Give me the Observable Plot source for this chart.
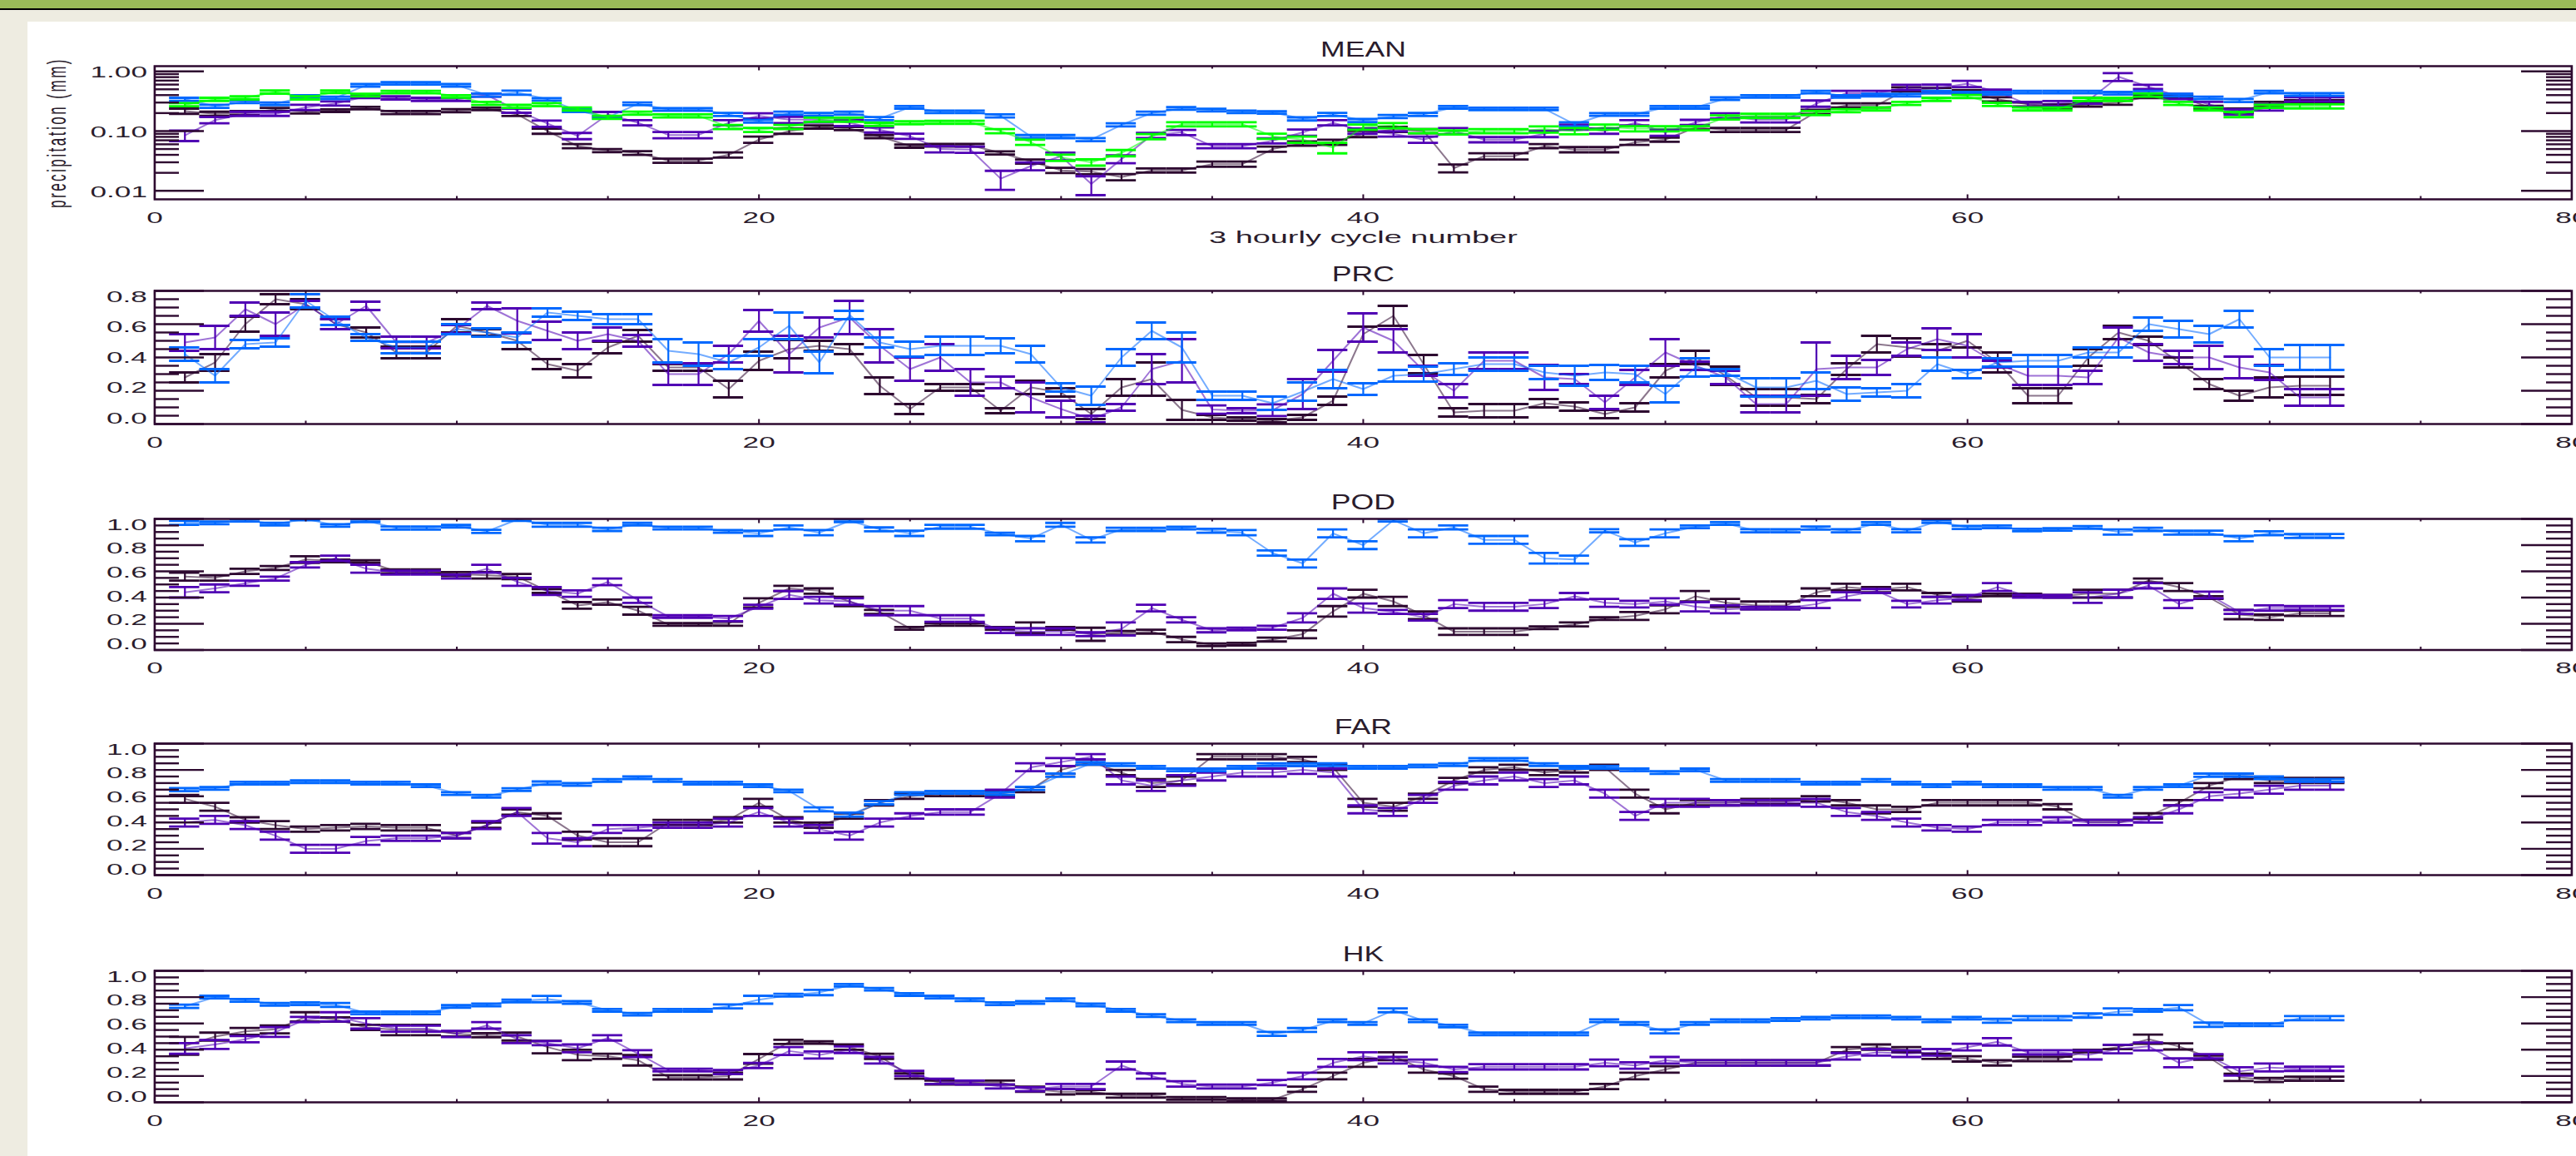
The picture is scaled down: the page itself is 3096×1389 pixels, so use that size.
<!DOCTYPE html>
<html><head><meta charset="utf-8">
<script src="https://cdn.jsdelivr.net/npm/d3@7"></script>
<script src="https://cdn.jsdelivr.net/npm/@observablehq/plot@0.6"></script>
<style>
html,body{margin:0;padding:0;overflow:hidden;background:#eeece1;}
#page{position:relative;width:3096px;height:1389px;overflow:hidden;background:#eeece1;}
#bar{position:absolute;left:0;top:0;width:3096px;height:10px;background:#9bbb59;}
#rule{position:absolute;left:0;top:10px;width:3096px;height:2px;background:#000;}
#sheet{position:absolute;left:33px;top:26px;right:0;bottom:0;background:#fff;}
.panel{position:absolute;left:0;}
.panel svg *{vector-effect:non-scaling-stroke;}
</style></head><body>
<div id="page"><div id="bar"></div><div id="rule"></div><div id="sheet"></div></div>
<script>
// ---------- data ----------
const cycle = [1,2,3,4,5,6,7,8,9,10,11,12,13,14,15,16,17,18,19,20,21,22,23,24,25,26,27,28,29,30,31,32,33,34,35,36,
  37,38,39,40,41,42,43,44,45,46,47,48,49,50,51,52,53,54,55,56,57,58,59,60,61,62,63,64,65,66,67,68,69,70,71,72];
const xTicksMinor = [5,10,15,25,30,35,45,50,55,65,70,75];
const xTicksMajor = [0,20,40,60,80];
const xTickLabels = [0,20,40,60,80];
const panelTitles = ["MEAN","PRC","POD","FAR","HK"];
const xAxisTitle = "3 hourly cycle number";
const yAxisTitle = "precipitation (mm)";
const logMinor = [0.02,0.03,0.04,0.05,0.06,0.07,0.08,0.09,0.2,0.3,0.4,0.5,0.6,0.7,0.8,0.9];
const logMajor = [0.01,0.1,1];
const logLabels = [1,0.1,0.01];
const linMinor = [0.05,0.1,0.15,0.25,0.3,0.35,0.45,0.5,0.55,0.65,0.7,0.75,0.85,0.9,0.95];
const linMajor = [0,0.2,0.4,0.6,0.8,1.0];
const prcMinor = [0.05,0.1,0.15,0.25,0.3,0.35,0.45,0.5,0.55,0.65,0.7,0.75];
const prcMajor = [0,0.2,0.4,0.6,0.8];

// MEAN (mm), relative error
const meanBlack = [0.216,0.195,0.20,0.23,0.21,0.22,0.243,0.205,0.205,0.22,0.235,0.19,
 0.10,0.056,0.047,0.043,0.032,0.032,0.04,0.072,0.10,0.117,0.11,0.081,
 0.056,0.058,0.058,0.043,0.031,0.022,0.021,0.017,0.022,0.022,0.028,0.028,
 0.05,0.062,0.065,0.09,0.107,0.10,0.024,0.038,0.038,0.056,0.049,0.049,
 0.065,0.072,0.115,0.105,0.105,0.105,0.21,0.27,0.27,0.50,0.48,0.45,
 0.34,0.28,0.26,0.28,0.30,0.38,0.38,0.25,0.22,0.28,0.31,0.31];
const meanPurple = [0.085,0.153,0.195,0.195,0.25,0.29,0.38,0.36,0.34,0.34,0.40,0.22,
 0.134,0.083,0.19,0.138,0.086,0.086,0.138,0.18,0.155,0.155,0.138,0.105,
 0.082,0.05,0.049,0.016,0.026,0.038,0.013,0.034,0.085,0.095,0.056,0.056,
 0.069,0.095,0.138,0.10,0.09,0.072,0.10,0.072,0.072,0.09,0.117,0.10,
 0.138,0.095,0.14,0.18,0.155,0.155,0.29,0.43,0.43,0.54,0.52,0.62,
 0.45,0.28,0.29,0.325,0.81,0.55,0.38,0.28,0.21,0.25,0.34,0.34];
const meanBlue = [0.34,0.26,0.31,0.286,0.38,0.36,0.585,0.63,0.63,0.585,0.40,0.44,
 0.34,0.22,0.17,0.286,0.23,0.23,0.19,0.146,0.20,0.19,0.20,0.162,
 0.25,0.21,0.21,0.18,0.081,0.081,0.072,0.127,0.20,0.24,0.225,0.21,
 0.205,0.16,0.19,0.15,0.175,0.19,0.25,0.235,0.235,0.235,0.13,0.19,
 0.19,0.25,0.25,0.35,0.38,0.38,0.45,0.38,0.40,0.40,0.45,0.43,
 0.43,0.45,0.45,0.45,0.43,0.45,0.40,0.36,0.325,0.45,0.41,0.41];
const meanGreen = [0.277,0.34,0.36,0.45,0.36,0.455,0.40,0.45,0.45,0.38,0.29,0.26,
 0.277,0.235,0.17,0.20,0.18,0.18,0.117,0.105,0.117,0.155,0.155,0.13,
 0.138,0.14,0.14,0.10,0.065,0.036,0.030,0.043,0.081,0.13,0.13,0.13,
 0.082,0.072,0.053,0.117,0.124,0.10,0.095,0.10,0.10,0.107,0.10,0.117,
 0.11,0.11,0.112,0.17,0.18,0.18,0.20,0.22,0.235,0.29,0.34,0.38,
 0.28,0.235,0.235,0.34,0.34,0.40,0.29,0.235,0.19,0.26,0.26,0.26];
const meanBlackRel = [0.10,0.08,0.08,0.06,0.06,0.05,0.05,0.06,0.06,0.06,0.05,0.06,
 0.10,0.08,0.06,0.07,0.08,0.08,0.10,0.12,0.10,0.06,0.06,0.06,
 0.06,0.05,0.05,0.06,0.08,0.10,0.10,0.12,0.08,0.08,0.10,0.10,
 0.10,0.08,0.10,0.12,0.10,0.08,0.15,0.12,0.12,0.08,0.10,0.10,
 0.10,0.08,0.08,0.08,0.08,0.08,0.08,0.08,0.08,0.08,0.10,0.08,
 0.08,0.08,0.08,0.08,0.08,0.06,0.06,0.06,0.08,0.10,0.06,0.06];
const meanPurpleRel = [0.20,0.12,0.08,0.08,0.10,0.08,0.06,0.06,0.06,0.06,0.06,0.08,
 0.12,0.12,0.10,0.10,0.12,0.12,0.10,0.10,0.12,0.10,0.12,0.10,
 0.10,0.12,0.12,0.35,0.15,0.15,0.35,0.15,0.10,0.10,0.08,0.08,
 0.10,0.12,0.10,0.10,0.10,0.12,0.12,0.10,0.10,0.12,0.10,0.10,
 0.10,0.12,0.10,0.10,0.10,0.10,0.12,0.10,0.10,0.10,0.15,0.12,
 0.10,0.10,0.10,0.12,0.15,0.08,0.10,0.10,0.10,0.12,0.08,0.08];
const meanBlueRel = [0.06,0.06,0.05,0.05,0.05,0.05,0.05,0.05,0.05,0.05,0.06,0.08,
 0.05,0.05,0.05,0.05,0.05,0.05,0.06,0.05,0.06,0.06,0.06,0.06,
 0.05,0.05,0.05,0.06,0.06,0.06,0.06,0.06,0.06,0.05,0.05,0.05,
 0.05,0.06,0.06,0.06,0.06,0.06,0.05,0.05,0.05,0.05,0.08,0.05,
 0.05,0.05,0.05,0.05,0.05,0.05,0.05,0.05,0.05,0.05,0.05,0.05,
 0.05,0.05,0.05,0.05,0.05,0.05,0.05,0.05,0.06,0.05,0.05,0.05];
const meanGreenRel = [0.06,0.06,0.06,0.06,0.06,0.05,0.05,0.05,0.05,0.05,0.06,0.06,
 0.06,0.06,0.06,0.06,0.06,0.06,0.08,0.08,0.08,0.08,0.08,0.06,
 0.06,0.06,0.06,0.08,0.10,0.12,0.12,0.12,0.10,0.08,0.08,0.08,
 0.10,0.12,0.20,0.10,0.10,0.08,0.08,0.08,0.08,0.12,0.12,0.10,
 0.10,0.10,0.08,0.08,0.08,0.08,0.08,0.06,0.06,0.06,0.06,0.06,
 0.06,0.06,0.06,0.06,0.06,0.06,0.06,0.06,0.10,0.06,0.08,0.08];

// PRC
const prcBlack = [0.28,0.37,0.60,0.75,0.72,0.60,0.55,0.43,0.43,0.59,0.55,0.50,
 0.36,0.32,0.46,0.53,0.34,0.34,0.21,0.38,0.45,0.47,0.45,0.23,
 0.09,0.22,0.22,0.08,0.22,0.19,0.06,0.22,0.27,0.085,0.04,0.03,
 0.02,0.04,0.14,0.54,0.65,0.36,0.07,0.08,0.08,0.125,0.105,0.06,
 0.10,0.32,0.40,0.29,0.16,0.16,0.15,0.33,0.48,0.46,0.44,0.50,
 0.37,0.17,0.17,0.40,0.55,0.50,0.37,0.24,0.17,0.22,0.23,0.23];
const prcPurple = [0.49,0.52,0.69,0.60,0.72,0.60,0.71,0.49,0.49,0.57,0.71,0.62,
 0.56,0.50,0.54,0.50,0.30,0.30,0.42,0.62,0.42,0.58,0.64,0.47,
 0.33,0.40,0.25,0.25,0.16,0.09,0.03,0.10,0.33,0.38,0.087,0.08,
 0.083,0.18,0.38,0.58,0.50,0.32,0.20,0.38,0.38,0.28,0.27,0.13,
 0.28,0.43,0.35,0.28,0.12,0.12,0.33,0.34,0.34,0.45,0.51,0.47,
 0.36,0.29,0.29,0.28,0.52,0.43,0.40,0.40,0.34,0.31,0.16,0.16];
const prcBlue = [0.42,0.29,0.48,0.49,0.74,0.62,0.52,0.46,0.46,0.57,0.55,0.52,
 0.67,0.65,0.63,0.63,0.44,0.42,0.37,0.46,0.59,0.37,0.655,0.49,
 0.45,0.47,0.47,0.47,0.42,0.22,0.17,0.40,0.56,0.46,0.17,0.17,
 0.125,0.195,0.27,0.21,0.29,0.30,0.33,0.36,0.36,0.31,0.29,0.31,
 0.30,0.18,0.34,0.31,0.22,0.22,0.26,0.18,0.19,0.20,0.36,0.30,
 0.37,0.38,0.38,0.43,0.43,0.60,0.57,0.54,0.63,0.40,0.40,0.40];
const prcBlackErr = [0.03,0.05,0.045,0.03,0.03,0.03,0.03,0.035,0.035,0.04,0.02,0.05,
 0.03,0.04,0.035,0.035,0.02,0.02,0.05,0.055,0.055,0.03,0.03,0.05,
 0.03,0.02,0.02,0.015,0.04,0.025,0.03,0.05,0.10,0.06,0.015,0.01,
 0.01,0.015,0.025,0.045,0.06,0.055,0.025,0.04,0.04,0.025,0.025,0.025,
 0.025,0.04,0.04,0.055,0.05,0.05,0.025,0.035,0.05,0.055,0.04,0.04,
 0.06,0.045,0.045,0.05,0.04,0.025,0.03,0.03,0.03,0.06,0.055,0.055];
const prcPurpleErr = [0.05,0.07,0.04,0.07,0.02,0.03,0.025,0.035,0.035,0.025,0.02,0.075,
 0.055,0.05,0.04,0.035,0.065,0.065,0.05,0.065,0.11,0.06,0.10,0.10,
 0.07,0.08,0.08,0.035,0.09,0.05,0.02,0.02,0.09,0.13,0.025,0.015,
 0.035,0.09,0.065,0.085,0.07,0.03,0.04,0.05,0.05,0.075,0.03,0.04,
 0.045,0.08,0.025,0.04,0.05,0.05,0.16,0.07,0.045,0.04,0.065,0.07,
 0.02,0.055,0.055,0.04,0.06,0.05,0.04,0.07,0.065,0.045,0.05,0.05];
const prcBlueErr = [0.04,0.04,0.025,0.025,0.04,0.025,0.02,0.035,0.035,0.03,0.025,0.03,
 0.025,0.025,0.03,0.03,0.07,0.07,0.04,0.05,0.08,0.065,0.025,0.03,
 0.045,0.055,0.055,0.045,0.05,0.025,0.055,0.05,0.05,0.09,0.025,0.025,
 0.04,0.055,0.055,0.035,0.035,0.045,0.035,0.04,0.04,0.04,0.06,0.045,
 0.05,0.05,0.055,0.02,0.055,0.055,0.05,0.04,0.025,0.04,0.04,0.025,
 0.025,0.035,0.035,0.03,0.03,0.04,0.05,0.05,0.05,0.05,0.075,0.075];

// POD
const podBlack = [0.56,0.55,0.60,0.625,0.69,0.68,0.675,0.60,0.60,0.58,0.57,0.56,
 0.45,0.34,0.365,0.30,0.195,0.195,0.20,0.36,0.47,0.45,0.37,0.29,
 0.165,0.195,0.195,0.165,0.17,0.165,0.12,0.13,0.14,0.08,0.04,0.045,
 0.08,0.12,0.295,0.43,0.37,0.265,0.14,0.14,0.14,0.17,0.195,0.24,
 0.26,0.31,0.41,0.36,0.34,0.34,0.44,0.48,0.46,0.48,0.42,0.39,
 0.42,0.42,0.41,0.43,0.43,0.53,0.48,0.40,0.27,0.25,0.28,0.28];
const podPurple = [0.44,0.47,0.51,0.545,0.65,0.70,0.62,0.59,0.59,0.56,0.62,0.52,
 0.45,0.43,0.52,0.38,0.255,0.255,0.24,0.33,0.42,0.38,0.37,0.30,
 0.30,0.24,0.24,0.15,0.14,0.14,0.12,0.16,0.32,0.23,0.15,0.16,
 0.17,0.245,0.43,0.32,0.29,0.25,0.35,0.33,0.33,0.35,0.41,0.36,
 0.35,0.37,0.33,0.31,0.32,0.32,0.35,0.41,0.45,0.35,0.38,0.40,
 0.48,0.41,0.41,0.40,0.43,0.49,0.35,0.42,0.29,0.32,0.32,0.32];
const podBlue = [0.97,0.97,0.99,0.96,1.0,0.95,0.985,0.93,0.93,0.945,0.905,0.995,
 0.955,0.955,0.92,0.96,0.93,0.93,0.905,0.89,0.935,0.895,0.985,0.92,
 0.89,0.94,0.94,0.885,0.85,0.955,0.84,0.92,0.92,0.93,0.91,0.895,
 0.74,0.66,0.89,0.80,0.99,0.89,0.935,0.84,0.84,0.70,0.69,0.91,
 0.82,0.89,0.94,0.965,0.91,0.91,0.93,0.91,0.965,0.91,0.98,0.935,
 0.94,0.915,0.92,0.935,0.90,0.92,0.895,0.895,0.85,0.89,0.87,0.87];
const podBlackErr = [0.03,0.02,0.02,0.015,0.025,0.01,0.01,0.015,0.015,0.015,0.025,0.02,
 0.015,0.025,0.02,0.03,0.01,0.01,0.015,0.035,0.02,0.02,0.035,0.015,
 0.01,0.01,0.01,0.01,0.04,0.01,0.05,0.015,0.015,0.02,0.01,0.01,
 0.015,0.03,0.04,0.03,0.035,0.03,0.025,0.025,0.025,0.01,0.015,0.01,
 0.03,0.03,0.04,0.03,0.03,0.03,0.03,0.025,0.02,0.025,0.015,0.02,
 0.01,0.01,0.01,0.03,0.03,0.015,0.03,0.01,0.035,0.02,0.02,0.02];
const podPurpleErr = [0.04,0.03,0.02,0.015,0.02,0.02,0.03,0.015,0.015,0.015,0.03,0.03,
 0.03,0.025,0.025,0.02,0.01,0.01,0.02,0.015,0.03,0.025,0.025,0.035,
 0.035,0.025,0.025,0.02,0.025,0.025,0.015,0.05,0.025,0.02,0.015,0.01,
 0.015,0.035,0.04,0.035,0.015,0.025,0.03,0.03,0.03,0.03,0.025,0.03,
 0.025,0.025,0.035,0.03,0.01,0.01,0.03,0.03,0.015,0.025,0.025,0.02,
 0.03,0.01,0.01,0.04,0.03,0.02,0.03,0.025,0.015,0.02,0.015,0.015];
const podBlueErr = [0.015,0.01,0.01,0.01,0.01,0.01,0.01,0.012,0.012,0.01,0.012,0.01,
 0.015,0.015,0.012,0.01,0.01,0.01,0.01,0.02,0.015,0.02,0.01,0.015,
 0.02,0.015,0.015,0.01,0.02,0.015,0.02,0.012,0.012,0.01,0.015,0.02,
 0.02,0.03,0.03,0.03,0.01,0.03,0.015,0.03,0.03,0.04,0.03,0.012,
 0.025,0.03,0.01,0.01,0.012,0.012,0.012,0.012,0.01,0.012,0.01,0.012,
 0.01,0.01,0.01,0.01,0.02,0.012,0.015,0.015,0.02,0.015,0.015,0.015];

// FAR
const farBlack = [0.58,0.52,0.42,0.38,0.35,0.36,0.37,0.36,0.36,0.30,0.38,0.48,
 0.45,0.30,0.25,0.25,0.40,0.40,0.42,0.55,0.42,0.38,0.45,0.55,
 0.60,0.62,0.62,0.62,0.65,0.80,0.86,0.78,0.70,0.72,0.90,0.90,
 0.90,0.88,0.82,0.55,0.52,0.60,0.72,0.80,0.82,0.78,0.80,0.82,
 0.62,0.50,0.55,0.55,0.56,0.56,0.58,0.55,0.50,0.50,0.55,0.55,
 0.55,0.55,0.52,0.40,0.40,0.45,0.55,0.68,0.75,0.72,0.72,0.72];
const farPurple = [0.40,0.42,0.38,0.30,0.20,0.20,0.26,0.28,0.28,0.30,0.38,0.48,
 0.28,0.25,0.35,0.36,0.38,0.38,0.40,0.48,0.40,0.35,0.30,0.40,
 0.45,0.48,0.48,0.62,0.82,0.86,0.90,0.72,0.68,0.72,0.75,0.78,
 0.78,0.80,0.78,0.50,0.48,0.58,0.68,0.72,0.75,0.70,0.72,0.62,
 0.45,0.55,0.55,0.55,0.55,0.55,0.55,0.48,0.45,0.40,0.36,0.35,
 0.40,0.40,0.42,0.40,0.40,0.42,0.50,0.60,0.62,0.65,0.68,0.68];
const farBlue = [0.65,0.66,0.70,0.70,0.71,0.71,0.70,0.70,0.68,0.62,0.60,0.65,
 0.70,0.69,0.72,0.74,0.72,0.70,0.70,0.68,0.64,0.50,0.46,0.55,
 0.62,0.63,0.63,0.62,0.66,0.76,0.85,0.84,0.82,0.80,0.80,0.82,
 0.84,0.84,0.84,0.82,0.82,0.83,0.84,0.88,0.88,0.84,0.82,0.82,
 0.80,0.78,0.80,0.72,0.72,0.72,0.70,0.70,0.72,0.70,0.68,0.70,
 0.68,0.68,0.66,0.66,0.60,0.66,0.68,0.76,0.76,0.74,0.72,0.72];
const farBlackErr = [0.03,0.03,0.02,0.03,0.02,0.02,0.02,0.02,0.02,0.02,0.02,0.02,
 0.02,0.03,0.03,0.03,0.02,0.02,0.02,0.03,0.02,0.02,0.02,0.02,
 0.02,0.02,0.02,0.02,0.02,0.03,0.02,0.02,0.03,0.03,0.02,0.02,
 0.02,0.02,0.02,0.03,0.03,0.02,0.02,0.02,0.02,0.02,0.02,0.02,
 0.03,0.03,0.02,0.02,0.02,0.02,0.02,0.02,0.03,0.02,0.02,0.02,
 0.02,0.02,0.02,0.02,0.02,0.02,0.02,0.02,0.02,0.02,0.02,0.02];
const farPurpleErr = [0.03,0.03,0.03,0.03,0.03,0.03,0.03,0.02,0.02,0.02,0.03,0.03,
 0.04,0.03,0.03,0.02,0.02,0.02,0.03,0.03,0.03,0.03,0.03,0.03,
 0.02,0.02,0.02,0.03,0.03,0.03,0.02,0.03,0.04,0.04,0.03,0.03,
 0.03,0.03,0.03,0.03,0.03,0.03,0.03,0.03,0.03,0.03,0.03,0.03,
 0.03,0.03,0.03,0.02,0.02,0.02,0.03,0.03,0.03,0.03,0.02,0.02,
 0.02,0.02,0.02,0.02,0.02,0.02,0.03,0.03,0.03,0.03,0.03,0.03];
const farBlueErr = [0.012,0.01,0.01,0.01,0.01,0.01,0.01,0.01,0.01,0.01,0.01,0.01,
 0.012,0.01,0.01,0.01,0.01,0.01,0.01,0.01,0.01,0.015,0.015,0.012,
 0.01,0.01,0.01,0.01,0.012,0.012,0.01,0.01,0.01,0.01,0.01,0.01,
 0.01,0.01,0.01,0.01,0.01,0.01,0.01,0.01,0.01,0.01,0.01,0.01,
 0.01,0.01,0.01,0.01,0.01,0.01,0.01,0.01,0.01,0.01,0.01,0.01,
 0.01,0.01,0.01,0.01,0.01,0.01,0.01,0.012,0.012,0.01,0.01,0.01];

// HK
const hkBlack = [0.43,0.50,0.54,0.555,0.65,0.63,0.57,0.55,0.55,0.52,0.51,0.50,
 0.42,0.36,0.35,0.32,0.19,0.19,0.20,0.33,0.46,0.455,0.42,0.35,
 0.20,0.15,0.15,0.15,0.10,0.08,0.08,0.05,0.05,0.03,0.03,0.02,
 0.02,0.10,0.20,0.30,0.35,0.25,0.20,0.10,0.08,0.08,0.08,0.12,
 0.20,0.25,0.30,0.30,0.30,0.30,0.30,0.40,0.42,0.40,0.35,0.33,
 0.30,0.33,0.33,0.39,0.42,0.48,0.425,0.34,0.19,0.17,0.18,0.18];
const hkPurple = [0.41,0.44,0.48,0.535,0.63,0.65,0.60,0.56,0.56,0.52,0.585,0.48,
 0.45,0.41,0.49,0.37,0.245,0.245,0.23,0.28,0.39,0.36,0.40,0.32,
 0.22,0.16,0.15,0.12,0.10,0.12,0.12,0.28,0.20,0.14,0.12,0.12,
 0.15,0.20,0.30,0.35,0.32,0.30,0.25,0.27,0.27,0.27,0.27,0.30,
 0.28,0.32,0.30,0.30,0.30,0.30,0.30,0.35,0.38,0.37,0.38,0.42,
 0.46,0.38,0.38,0.36,0.405,0.425,0.30,0.35,0.235,0.265,0.255,0.255];
const hkBlue = [0.73,0.80,0.775,0.745,0.75,0.74,0.68,0.68,0.68,0.73,0.74,0.77,
 0.785,0.76,0.70,0.67,0.70,0.70,0.73,0.78,0.815,0.835,0.89,0.86,
 0.82,0.80,0.78,0.75,0.76,0.78,0.74,0.70,0.66,0.62,0.60,0.60,
 0.52,0.55,0.62,0.60,0.70,0.62,0.58,0.52,0.52,0.52,0.52,0.62,
 0.60,0.54,0.60,0.62,0.62,0.63,0.64,0.65,0.65,0.64,0.62,0.64,
 0.62,0.64,0.64,0.66,0.69,0.70,0.72,0.59,0.59,0.59,0.64,0.64];
const hkBlackErr = [0.068,0.03,0.026,0.03,0.035,0.016,0.02,0.04,0.04,0.02,0.016,0.03,
 0.047,0.04,0.02,0.04,0.016,0.016,0.026,0.037,0.016,0.01,0.02,0.02,
 0.02,0.015,0.015,0.015,0.02,0.02,0.015,0.015,0.015,0.01,0.01,0.01,
 0.01,0.02,0.025,0.03,0.03,0.025,0.02,0.02,0.015,0.015,0.015,0.02,
 0.025,0.025,0.02,0.02,0.02,0.02,0.02,0.02,0.02,0.02,0.02,0.02,
 0.02,0.017,0.017,0.01,0.016,0.035,0.023,0.016,0.028,0.016,0.016,0.016];
const hkPurpleErr = [0.04,0.034,0.024,0.037,0.02,0.035,0.04,0.023,0.023,0.024,0.025,0.03,
 0.016,0.03,0.02,0.026,0.01,0.01,0.016,0.02,0.03,0.027,0.025,0.025,
 0.02,0.02,0.015,0.015,0.015,0.02,0.02,0.03,0.02,0.02,0.015,0.015,
 0.02,0.025,0.03,0.03,0.025,0.025,0.02,0.02,0.02,0.02,0.02,0.025,
 0.025,0.025,0.02,0.02,0.02,0.02,0.02,0.025,0.025,0.025,0.025,0.025,
 0.028,0.016,0.016,0.034,0.032,0.03,0.034,0.016,0.032,0.03,0.016,0.016];
const hkBlueErr = [0.013,0.01,0.01,0.01,0.01,0.015,0.01,0.01,0.01,0.01,0.01,0.01,
 0.024,0.01,0.01,0.01,0.01,0.01,0.015,0.03,0.01,0.02,0.01,0.01,
 0.01,0.01,0.01,0.01,0.01,0.01,0.01,0.01,0.01,0.01,0.01,0.01,
 0.015,0.015,0.01,0.01,0.015,0.01,0.01,0.01,0.01,0.01,0.01,0.01,
 0.01,0.015,0.01,0.01,0.01,0.01,0.01,0.01,0.01,0.01,0.01,0.01,
 0.015,0.016,0.016,0.016,0.024,0.01,0.02,0.016,0.01,0.01,0.016,0.016];

// ---------- styling / layout ----------
const C_BLACK = "#2d0830", C_PURPLE = "#5000b4", C_BLUE = "#0068ff", C_GREEN = "#00ff00";
const AX = "#2e0a30", TXT = "#2a1c2c";
const FONT = "'Liberation Sans', Arial, Helvetica, sans-serif";
const S = 1.85;               // horizontal stretch of the original raster
const FULLW = 3096, W = FULLW / S;
const BOXL = 185, BOXR = 3090;
const mL = BOXL / S, mR = (FULLW - BOXR) / S, boxW = W - mL - mR;
const MT = 48;
const page = document.getElementById("page");

function rowsLin(v, e) { return cycle.map((c, i) => ({c, v: v[i], lo: v[i] - e[i], hi: v[i] + e[i]})); }
function rowsLog(v, r) { return cycle.map((c, i) => ({c, v: v[i], lo: v[i] * (1 - r[i]), hi: v[i] * (1 + r[i])})); }

function panel(cfg) {
  const H = MT + cfg.boxH + cfg.mb;
  const minorLen = 30 / S, majorLen = 60 / S;
  const marks = [];
  for (const s of cfg.series) {
    marks.push(Plot.line(s.rows, {x: "c", y: "v", stroke: s.color, strokeWidth: 2, strokeOpacity: 0.55, clip: true}));
    marks.push(Plot.ruleX(s.rows, {x: "c", y1: "lo", y2: "hi", stroke: s.color, strokeWidth: 2.2, clip: true}));
    marks.push(Plot.ruleY(s.rows, {y: "hi", x1: d => d.c - 0.5, x2: d => d.c + 0.5, stroke: s.color, strokeWidth: 2.8, clip: true}));
    marks.push(Plot.ruleY(s.rows, {y: "lo", x1: d => d.c - 0.5, x2: d => d.c + 0.5, stroke: s.color, strokeWidth: 2.8, clip: true}));
  }
  // inward ticks
  marks.push(Plot.tickY(cfg.yMinor, {y: d => d, stroke: AX, strokeWidth: 2.4, insetRight: boxW - minorLen}));
  marks.push(Plot.tickY(cfg.yMinor, {y: d => d, stroke: AX, strokeWidth: 2.4, insetLeft: boxW - minorLen}));
  marks.push(Plot.tickY(cfg.yMajor, {y: d => d, stroke: AX, strokeWidth: 2.4, insetRight: boxW - majorLen}));
  marks.push(Plot.tickY(cfg.yMajor, {y: d => d, stroke: AX, strokeWidth: 2.4, insetLeft: boxW - majorLen}));
  marks.push(Plot.tickX(xTicksMinor, {x: d => d, stroke: AX, strokeWidth: 2, insetTop: cfg.boxH - 3.5}));
  marks.push(Plot.tickX(xTicksMinor, {x: d => d, stroke: AX, strokeWidth: 2, insetBottom: cfg.boxH - 3.5}));
  marks.push(Plot.tickX(xTicksMajor, {x: d => d, stroke: AX, strokeWidth: 2, insetTop: cfg.boxH - 5.5}));
  marks.push(Plot.tickX(xTicksMajor, {x: d => d, stroke: AX, strokeWidth: 2, insetBottom: cfg.boxH - 5.5}));
  marks.push(Plot.frame({stroke: AX, strokeWidth: 2.6}));
  // labels
  marks.push(Plot.text(xTickLabels, {x: d => d, frameAnchor: "bottom", lineAnchor: "middle", textAnchor: "middle", dy: 22, text: d => String(d), fontSize: 19, fill: TXT}));
  marks.push(Plot.text(cfg.yLabels, {y: cfg.labelY, frameAnchor: "left", lineAnchor: "middle", dx: -9 / S, dy: cfg.labelDy || 0, textAnchor: "end", text: cfg.fmt, fontSize: 19, fill: TXT}));
  marks.push(Plot.text([cfg.title], {frameAnchor: "top", lineAnchor: "middle", textAnchor: "middle", dy: -19.5, fontSize: 26, fill: TXT}));
  if (cfg.xlabel) marks.push(Plot.text([cfg.xlabel], {frameAnchor: "bottom", lineAnchor: "middle", textAnchor: "middle", dy: 46, fontSize: 20.5, fill: TXT}));
  if (cfg.ylabel) marks.push(Plot.text([cfg.ylabel], {frameAnchor: "left", lineAnchor: "middle", textAnchor: "middle", dx: (68 - BOXL) / S, rotate: -90, fontSize: 17, fill: TXT}));

  const svg = Plot.plot({
    width: W, height: H, marginLeft: mL, marginRight: mR, marginTop: MT, marginBottom: cfg.mb,
    x: {domain: [0, 80], axis: null},
    y: {type: cfg.yType, domain: cfg.yDomain, axis: null},
    style: {background: "transparent", fontFamily: FONT, overflow: "hidden"},
    marks
  });
  svg.setAttribute("preserveAspectRatio", "none");
  svg.setAttribute("width", FULLW);
  svg.style.width = FULLW + "px";
  svg.style.height = H + "px";
  svg.style.maxWidth = "none";
  const wrap = document.createElement("div");
  wrap.className = "panel";
  wrap.style.top = (cfg.boxTop - MT) + "px";
  wrap.appendChild(svg);
  page.appendChild(wrap);
  svg.querySelectorAll("text").forEach(t => {
    const s = t.textContent;
    if (panelTitles.includes(s)) {
      const L = t.getComputedTextLength();
      t.setAttribute("textLength", L * 0.74);
      t.setAttribute("lengthAdjust", "spacingAndGlyphs");
    }
    if (s === yAxisTitle) t.style.letterSpacing = "2.5px";
  });
}

const f2 = d3.format(".2f"), f1 = d3.format(".1f");
const linLabel = (D, h) => d => D * (7 / h) + d * (1 - 14 / h);

panel({title: panelTitles[0], boxTop: 79, boxH: 160, mb: 62, yType: "log", yDomain: [0.0072, 1.22],
  yMinor: logMinor, yMajor: logMajor, yLabels: logLabels, labelY: d => d, labelDy: 1.5, fmt: f2,
  xlabel: xAxisTitle, ylabel: yAxisTitle,
  series: [
    {rows: rowsLog(meanBlack, meanBlackRel), color: C_BLACK},
    {rows: rowsLog(meanPurple, meanPurpleRel), color: C_PURPLE},
    {rows: rowsLog(meanBlue, meanBlueRel), color: C_BLUE},
    {rows: rowsLog(meanGreen, meanGreenRel), color: C_GREEN}
  ]});
panel({title: panelTitles[1], boxTop: 349, boxH: 160, mb: 36, yType: "linear", yDomain: [0, 0.8],
  yMinor: prcMinor, yMajor: prcMajor, yLabels: prcMajor, labelY: linLabel(0.8, 160), fmt: f1,
  series: [
    {rows: rowsLin(prcBlack, prcBlackErr), color: C_BLACK},
    {rows: rowsLin(prcPurple, prcPurpleErr), color: C_PURPLE},
    {rows: rowsLin(prcBlue, prcBlueErr), color: C_BLUE}
  ]});
panel({title: panelTitles[2], boxTop: 622.5, boxH: 157.5, mb: 36, yType: "linear", yDomain: [0, 1],
  yMinor: linMinor, yMajor: linMajor, yLabels: linMajor, labelY: linLabel(1, 157.5), fmt: f1,
  series: [
    {rows: rowsLin(podBlack, podBlackErr), color: C_BLACK},
    {rows: rowsLin(podPurple, podPurpleErr), color: C_PURPLE},
    {rows: rowsLin(podBlue, podBlueErr), color: C_BLUE}
  ]});
panel({title: panelTitles[3], boxTop: 893, boxH: 158, mb: 36, yType: "linear", yDomain: [0, 1],
  yMinor: linMinor, yMajor: linMajor, yLabels: linMajor, labelY: linLabel(1, 158), fmt: f1,
  series: [
    {rows: rowsLin(farBlack, farBlackErr), color: C_BLACK},
    {rows: rowsLin(farPurple, farPurpleErr), color: C_PURPLE},
    {rows: rowsLin(farBlue, farBlueErr), color: C_BLUE}
  ]});
panel({title: panelTitles[4], boxTop: 1166, boxH: 158, mb: 36, yType: "linear", yDomain: [0, 1],
  yMinor: linMinor, yMajor: linMajor, yLabels: linMajor, labelY: linLabel(1, 158), fmt: f1,
  series: [
    {rows: rowsLin(hkBlack, hkBlackErr), color: C_BLACK},
    {rows: rowsLin(hkPurple, hkPurpleErr), color: C_PURPLE},
    {rows: rowsLin(hkBlue, hkBlueErr), color: C_BLUE}
  ]});
</script>
</body></html>
